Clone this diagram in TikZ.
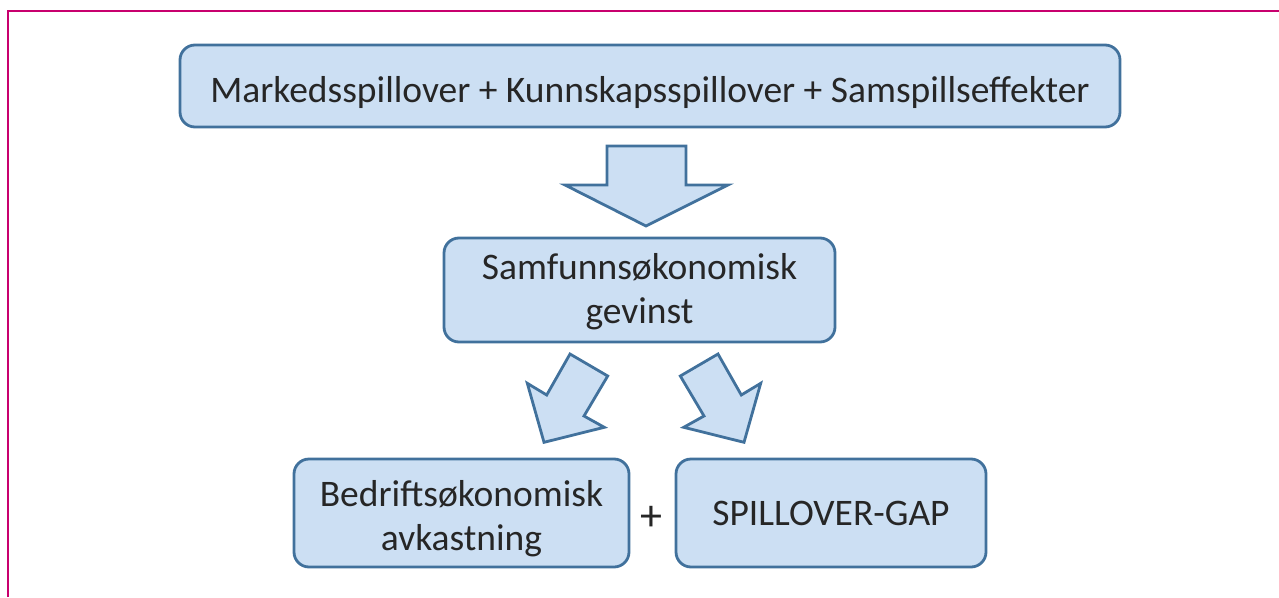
\documentclass[tikz,border=0pt]{standalone}
\usepackage{fontspec}
\setmainfont{Carlito}
\definecolor{boxfill}{HTML}{CCDFF3}
\definecolor{boxline}{HTML}{41719C}
\definecolor{framecol}{HTML}{C8006E}
\begin{document}
\begin{tikzpicture}[x=1pt,y=-1pt,
  blockbox/.style={draw=boxline,fill=boxfill,line width=2.8pt,rounded corners=15pt,inner sep=0pt},
  boxtext/.style={anchor=base,inner sep=0pt,align=center,font=\fontsize{37.5}{44}\selectfont,text=black!85},
  blockarrow/.style={draw=boxline,fill=boxfill,line width=2.8pt,line join=miter}]
\useasboundingbox (0,0) rectangle (1279,597);
\draw[framecol,line width=1.6pt] (7.7,597) -- (7.7,10.7) -- (1279,10.7);
\node[blockbox,minimum width=940pt,minimum height=82pt] (top) at (650,86) {};
\node[blockbox,minimum width=391pt,minimum height=104pt] (mid) at (639.5,290) {};
\node[blockbox,minimum width=335pt,minimum height=108pt] (bl) at (461.5,513) {};
\node[blockbox,minimum width=310pt,minimum height=108pt] (br) at (831,513) {};
\node[boxtext] (toptext) at (650,102) {Markedsspillover + Kunnskapsspillover + Samspillseffekter};
\node[boxtext] (midtext) at (639.5,323) {Samfunnsøkonomisk\\gevinst};
\node[boxtext] (bltext) at (461.5,550) {Bedriftsøkonomisk\\avkastning};
\node[boxtext] (brtext) at (831,525) {SPILLOVER-GAP};
\node[font=\fontsize{44}{48}\selectfont,text=black!85,inner sep=0pt] (plus) at (651.7,518) {+};
\draw[blockarrow] (607,146) -- (686,146) -- (686,185) -- (728,185) -- (646,226) -- (565,185) -- (607,185) -- cycle;
\draw[blockarrow] (570,354) -- (607.7,376) -- (584,416) -- (604.3,427.3) -- (544,442.3) -- (527.3,383.3) -- (546.7,395) -- cycle;
\draw[blockarrow] (718,354) -- (680.3,376) -- (704,416) -- (683.7,427.3) -- (744,442.3) -- (760.7,383.3) -- (741.3,395) -- cycle;
\end{tikzpicture}
\end{document}
